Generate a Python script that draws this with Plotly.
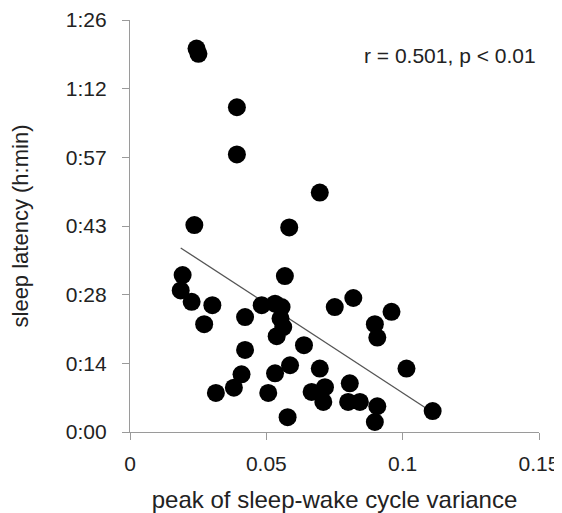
import plotly.graph_objects as go

# peak of sleep-wake cycle variance
variance = [0.0244, 0.0251, 0.0392, 0.0392, 0.0236, 0.0584, 0.0696,
            0.0193, 0.0186, 0.0226, 0.0302, 0.0272, 0.0422, 0.0568,
            0.0483, 0.0532, 0.0556, 0.0552, 0.0562, 0.0538, 0.0638,
            0.0422, 0.0409, 0.0381, 0.0315, 0.0587, 0.0532, 0.0507,
            0.0578, 0.0751, 0.0819, 0.0959, 0.0898, 0.0907, 0.0696,
            0.1014, 0.0666, 0.0715, 0.0709, 0.0806, 0.0800, 0.0843,
            0.0907, 0.0898, 0.1110]
# sleep latency in minutes
latency_min = [80.4, 79.3, 68.1, 58.2, 43.4, 42.9, 50.2,
               32.9, 29.7, 27.3, 26.6, 22.6, 24.1, 32.7,
               26.6, 26.9, 26.2, 23.8, 22.0, 20.1, 18.2,
               17.2, 12.1, 9.3, 8.2, 14.0, 12.3, 8.2,
               3.1, 26.2, 28.1, 25.2, 22.6, 19.8, 13.3,
               13.3, 8.4, 9.4, 6.3, 10.2, 6.3, 6.3,
               5.4, 2.1, 4.4]

# regression line endpoints
trend_x = [0.0186, 0.1110]
trend_y = [38.6, 4.1]

y_tick_vals = [0, 14.4, 28.8, 43.2, 57.6, 72.0, 86.4]
y_tick_text = ["0:00", "0:14", "0:28", "0:43", "0:57", "1:12", "1:26"]
x_tick_vals = [0, 0.05, 0.1, 0.15]
x_tick_text = ["0", "0.05", "0.1", "0.15"]

FONT = "Arial, 'Liberation Sans', sans-serif"
AXIS_COLOR = "#9a9a9a"
TEXT_COLOR = "#222222"
FS = 21
X_TITLE_FS = 24
Y_TITLE_FS = 22

fig = go.Figure()
fig.add_trace(go.Scatter(
    x=trend_x, y=trend_y, mode="lines",
    line=dict(color="#555555", width=1.3),
    showlegend=False, hoverinfo="skip"))
fig.add_trace(go.Scatter(
    x=variance, y=latency_min, mode="markers",
    marker=dict(color="black", size=18, line=dict(width=0)),
    showlegend=False))

fig.add_annotation(
    x=0.1496, y=79.0, xref="x", yref="y",
    text="r = 0.501, p < 0.01", showarrow=False,
    xanchor="right", yanchor="middle",
    font=dict(family=FONT, size=FS, color=TEXT_COLOR))

# page body has an 8px default margin, so the figure is 8px smaller
fig.update_layout(
    width=554, height=505,
    margin=dict(l=122, r=23, t=12, b=81, autoexpand=False),
    plot_bgcolor="white", paper_bgcolor="white",
    font=dict(family=FONT, size=FS, color=TEXT_COLOR),
)
fig.update_xaxes(
    range=[0, 0.15], tickvals=x_tick_vals, ticktext=x_tick_text,
    showgrid=False, zeroline=False, showline=True, automargin=False,
    linecolor=AXIS_COLOR, linewidth=1.2,
    ticks="outside", ticklen=7, tickcolor=AXIS_COLOR, tickwidth=1.2,
    ticklabelstandoff=6,
    title=dict(text="peak of sleep-wake cycle variance", standoff=19,
               font=dict(size=X_TITLE_FS)),
)
fig.update_yaxes(
    range=[0, 86.4], tickvals=y_tick_vals, ticktext=y_tick_text,
    showgrid=False, zeroline=False, showline=True, automargin=False,
    linecolor=AXIS_COLOR, linewidth=1.2,
    ticks="outside", ticklen=7, tickcolor=AXIS_COLOR, tickwidth=1.2,
    ticklabelstandoff=11,
    title=dict(text="sleep latency (h:min)", standoff=32,
               font=dict(size=Y_TITLE_FS)),
)

fig.write_html("out.html")
